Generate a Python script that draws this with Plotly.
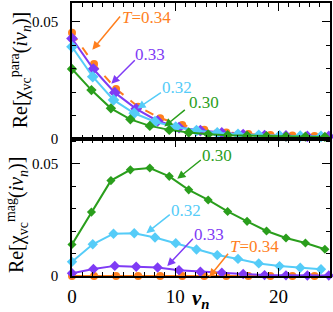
import numpy as np
import plotly.graph_objects as go

# Matsubara index and temperatures
temps = [0.34, 0.33, 0.32, 0.30]
labels = ["T=0.34", "0.33", "0.32", "0.30"]
colors = ["#FF7F1E", "#7F3BF5", "#55CCF8", "#2A9E1C"]

# Re[chi_para] (top panel)
para_034 = [0.0454, 0.0320, 0.0214, 0.0138, 0.0089, 0.0060, 0.0040, 0.0028, 0.0021, 0.0017, 0.0015, 0.0013]
para_033 = [0.0429, 0.0299, 0.0198, 0.0129, 0.0077, 0.0049, 0.0036, 0.0026, 0.0019, 0.0015, 0.0013, 0.0011, 0.0011]
para_032 = [0.0394, 0.0266, 0.0167, 0.0110, 0.0074, 0.0051, 0.0036, 0.0026, 0.0020, 0.0016, 0.0014, 0.0012, 0.0011]
para_030 = [0.0299, 0.0209, 0.0131, 0.0084, 0.0056, 0.0039, 0.0028, 0.0020, 0.0016, 0.0014, 0.0012, 0.0011, 0.0010, 0.0009]

# Re[chi_mag] (bottom panel)
mag_034 = [0.0] * 12
mag_033 = [0.0012, 0.0031, 0.0045, 0.0041, 0.0038, 0.0026, 0.0019, 0.0015, 0.0009, 0.0004, 0.0003, 0.0002, 0.0002]
mag_032 = [0.0063, 0.0141, 0.0188, 0.0190, 0.0171, 0.0146, 0.0118, 0.0093, 0.0076, 0.0056, 0.0044, 0.0037, 0.0030]
mag_030 = [0.0140, 0.0284, 0.0424, 0.0472, 0.0480, 0.0443, 0.0383, 0.0338, 0.0287, 0.0243, 0.0200, 0.0169, 0.0147, 0.0119]

para = [para_034, para_033, para_032, para_030]
mag = [mag_034, mag_033, mag_032, mag_030]

FONT = "Liberation Serif"

fig = go.Figure()

def nu(T, n):
    return 2 * np.pi * T * np.arange(n)

for i, (T, c) in enumerate(zip(temps, colors)):
    is_orange = i == 0
    sym = "circle" if is_orange else "diamond"
    dash = "dash" if is_orange else "solid"
    msize = 8 if is_orange else (9 if i in (1, 2) else 8)
    fig.add_trace(go.Scatter(
        x=nu(T, len(para[i])), y=para[i], mode="lines+markers",
        line=dict(color=c, width=2, dash=dash),
        marker=dict(symbol=sym, size=msize, color=c),
        cliponaxis=False, showlegend=False, xaxis="x", yaxis="y"))
    bsize = 8 if is_orange else (7 if i == 3 else 8)
    fig.add_trace(go.Scatter(
        x=nu(T, len(mag[i])), y=mag[i], mode="lines+markers",
        line=dict(color=c, width=2, dash="solid"),
        marker=dict(symbol=sym, size=bsize, color=c),
        cliponaxis=False, showlegend=False, xaxis="x2", yaxis="y2"))

split = 0.5018
common_x = dict(range=[0, 25], ticks="inside", ticklen=8, tickwidth=1.2, tickcolor="black",
                mirror="ticks", showline=True, linecolor="black", linewidth=1.6,
                showgrid=False, zeroline=False, dtick=10,
                minor=dict(dtick=1, ticks="inside", ticklen=4, tickcolor="black", tickwidth=1))
common_y = dict(ticks="inside", ticklen=8, tickwidth=1.2, tickcolor="black",
                mirror="ticks", showline=True, linecolor="black", linewidth=1.6,
                showgrid=False, zeroline=False, tickvals=[0, 0.05], ticktext=["0", "0.05"],
                tickfont=dict(family=FONT, size=15, color="black"), ticklabelstandoff=9,
                minor=dict(dtick=0.01, ticks="inside", ticklen=4, tickcolor="black", tickwidth=1))

fig.update_layout(
    width=333, height=312, margin=dict(l=72, r=3, t=1, b=36),
    paper_bgcolor="white", plot_bgcolor="white",
    xaxis=dict(common_x, anchor="y", showticklabels=False),
    yaxis=dict(common_y, domain=[split, 1], range=[0, 0.0581], anchor="x"),
    xaxis2=dict(common_x, anchor="y2", showticklabels=True,
                tickfont=dict(family=FONT, size=19, color="black"), ticklabelstandoff=2),
    yaxis2=dict(common_y, domain=[0, split], range=[0, 0.0609], anchor="x2"),
)

# labels with arrows: (text, color, text_x, text_y, tail_x, tail_y, head_x, head_y, panel)
notes = [
    ("<i>T</i>=0.34", colors[0], 7.2, 0.0521, 4.78, 0.0530, 1.97, 0.0381, 1),
    ("0.33", colors[1], 7.59, 0.0360, 6.23, 0.0343, 3.81, 0.0236, 1),
    ("0.32", colors[2], 10.2, 0.0219, 8.76, 0.0202, 6.33, 0.0130, 1),
    ("0.30", colors[3], 12.82, 0.0155, 11.08, 0.0130, 8.95, 0.0053, 1),
    ("0.30", colors[3], 14.08, 0.0534, 12.63, 0.0521, 10.2, 0.0432, 2),
    ("0.32", colors[2], 11.08, 0.0291, 9.62, 0.0278, 7.2, 0.0190, 2),
    ("0.33", colors[1], 13.3, 0.0185, 11.85, 0.0172, 9.23, 0.0044, 2),
    ("<i>T</i>=0.34", colors[0], 17.67, 0.0132, 15.24, 0.0106, 13.3, -0.0004, 2),
]
for text, c, tx, ty, ax_, ay_, hx, hy, p in notes:
    xr = "x" if p == 1 else "x2"
    yr = "y" if p == 1 else "y2"
    fig.add_annotation(x=tx, y=ty, xref=xr, yref=yr, text=text, showarrow=False,
                       font=dict(family=FONT, size=17, color=c))
    fig.add_annotation(x=hx, y=hy, ax=ax_, ay=ay_, xref=xr, yref=yr, axref=xr, ayref=yr,
                       text="", showarrow=True, arrowhead=2, arrowsize=1.1, arrowwidth=1.5,
                       arrowcolor=c, standoff=0)

# axis titles
title_top = "Re[χ<sub>vc</sub><sup>para</sup>(<i>i</i><i>ν<sub>n</sub></i>)]"
title_bot = "Re[χ<sub>vc</sub><sup>mag</sup>(<i>i</i><i>ν<sub>n</sub></i>)]"
fig.add_annotation(x=-0.2, y=0.755, xref="paper", yref="paper", text=title_top,
                   textangle=-90, showarrow=False, font=dict(family=FONT, size=20, color="black"),
                   xanchor="center", yanchor="middle")
fig.add_annotation(x=-0.215, y=0.225, xref="paper", yref="paper", text=title_bot,
                   textangle=-90, showarrow=False, font=dict(family=FONT, size=20, color="black"),
                   xanchor="center", yanchor="middle")
fig.add_annotation(x=0.5, y=-0.085, xref="paper", yref="paper",
                   text="<b><i>ν<sub>n</sub></i></b>", showarrow=False,
                   font=dict(family=FONT, size=21, color="black"), xanchor="center", yanchor="middle")

fig.write_html("out.html", config={"displayModeBar": False},
               post_script="document.body.style.margin='0';document.body.style.overflow='hidden';")
